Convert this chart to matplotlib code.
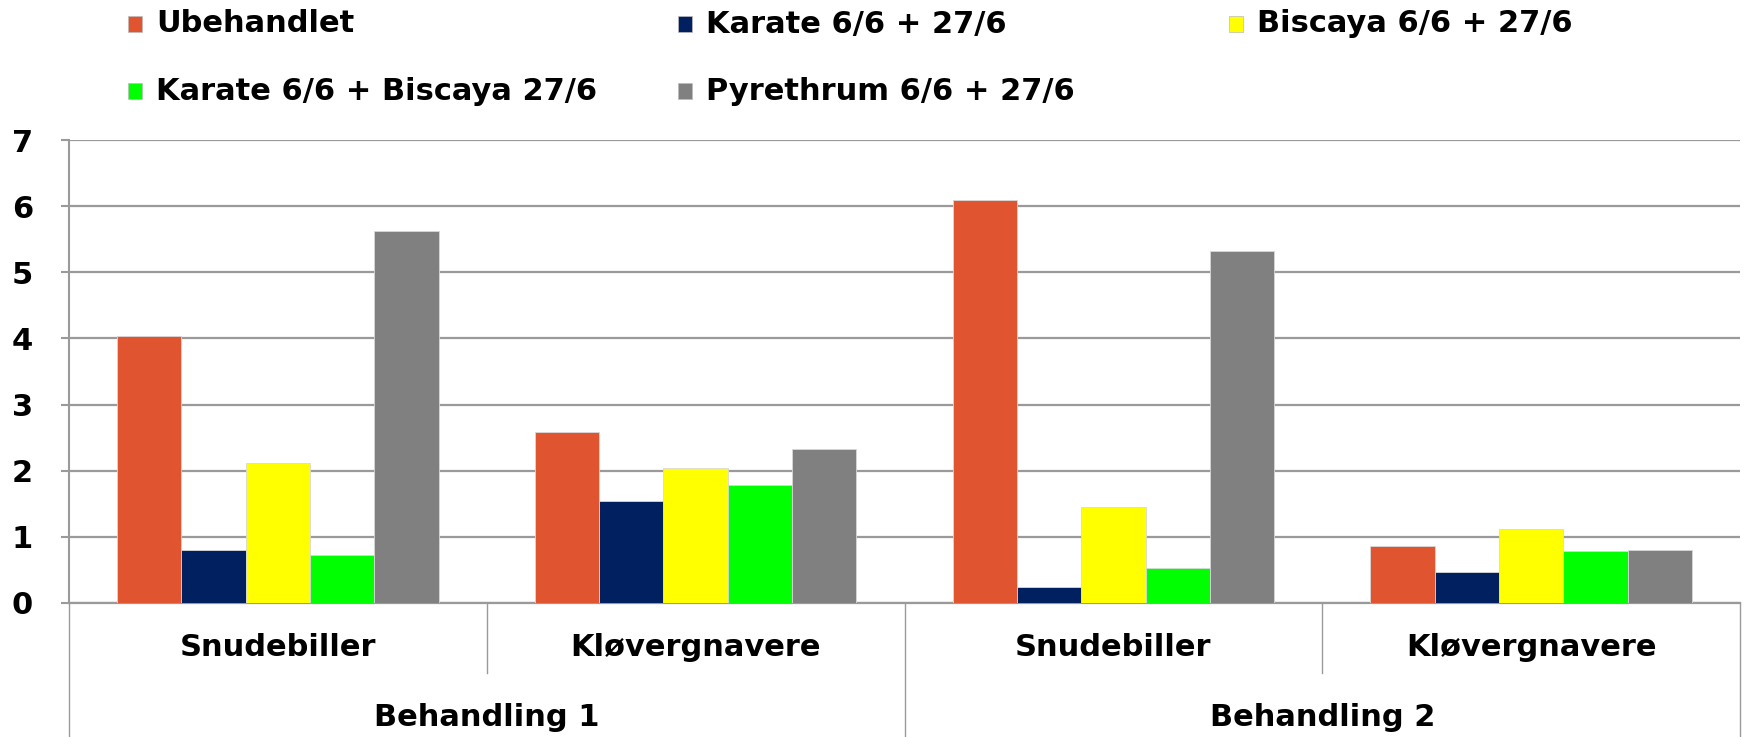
#!/usr/bin/env python3
"""Grouped bar chart: Behandling 1/2, Snudebiller / Kløvergnavere."""

import matplotlib

matplotlib.use("Agg")
import matplotlib.pyplot as plt
import numpy as np
from matplotlib.patches import Rectangle

plt.rcParams["font.family"] = ["DejaVu Sans"]
plt.rcParams["font.weight"] = "bold"

# --- data ---------------------------------------------------------------
groups = ["Behandling 1", "Behandling 2"]
categories = ["Snudebiller", "Kløvergnavere", "Snudebiller", "Kløvergnavere"]
series_names = [
    "Ubehandlet",
    "Karate 6/6 + 27/6",
    "Biscaya 6/6 + 27/6",
    "Karate 6/6 + Biscaya 27/6",
    "Pyrethrum 6/6 + 27/6",
]
ubehandlet = [4.03, 2.59, 6.09, 0.86]
karate = [0.80, 1.54, 0.24, 0.47]
biscaya = [2.12, 2.04, 1.45, 1.12]
karate_biscaya = [0.73, 1.79, 0.53, 0.79]
pyrethrum = [5.63, 2.33, 5.32, 0.80]
series_values = [ubehandlet, karate, biscaya, karate_biscaya, pyrethrum]

colors = ["#E0552F", "#00205F", "#FFFF00", "#00FF00", "#808080"]
grid_color = "#9A9A9A"
FS = 22

W, H = 1744, 737
fig = plt.figure(figsize=(W / 100, H / 100), dpi=100)
ax = fig.add_axes([69 / W, 134 / H, (1740 - 69) / W, (603 - 140) / H])

n = len(series_names)
bar_w = 1 / 6.5
x = np.arange(len(categories))
for i, (vals, col) in enumerate(zip(series_values, colors)):
    offs = (i - (n - 1) / 2) * bar_w
    ax.bar(x + offs, vals, width=bar_w, color=col, edgecolor="#D8D8D8",
           linewidth=0.6, zorder=3)

ax.set_xlim(-0.5, len(categories) - 0.5)
ax.set_ylim(0, 7)
ax.set_yticks(range(0, 8))
ax.yaxis.grid(True, color=grid_color, linewidth=1.6, zorder=0)
ax.set_xticks([])
ax.tick_params(axis="y", length=6, width=1.5, color=grid_color, pad=20,
               labelsize=FS)
for lab in ax.get_yticklabels():
    lab.set_fontweight("bold")
for side in ["top", "right"]:
    ax.spines[side].set_visible(False)
ax.spines["left"].set_color(grid_color)
ax.spines["left"].set_linewidth(1.5)
ax.spines["bottom"].set_color(grid_color)
ax.spines["bottom"].set_linewidth(1.6)

# multi-level category axis
trans = ax.get_xaxis_transform()
ax_h = 603 - 140
short_y = -70 / ax_h
long_y = -134 / ax_h
for xb in np.arange(-0.5, len(categories), 1.0):
    is_long = int(round(xb + 0.5)) % 2 == 0
    ax.plot([xb, xb], [0, long_y if is_long else short_y], transform=trans,
            color=grid_color, linewidth=1.0, clip_on=False)
for xi, cat in zip(x, categories):
    ax.text(xi, -45 / ax_h, cat, transform=trans, ha="center", va="center",
            fontsize=FS, fontweight="bold")
for gi, grp in enumerate(groups):
    ax.text(2 * gi + 0.5, -114 / ax_h, grp, transform=trans, ha="center",
            va="center", fontsize=FS, fontweight="bold")

# legend, three columns on two rows
leg_x = [128, 678, 1229]
leg_y = [24, 91]
for i, (name, col) in enumerate(zip(series_names, colors)):
    lx = leg_x[i % 3]
    ly = leg_y[i // 3]
    fig.patches.append(Rectangle(((lx) / W, 1 - (ly + 8) / H), 14 / W, 16 / H,
                                 transform=fig.transFigure, facecolor=col,
                                 edgecolor="#BBBBBB", linewidth=0.5))
    fig.text((lx + 28) / W, 1 - ly / H, name, ha="left", va="center",
             fontsize=FS, fontweight="bold")

fig.savefig("out.png", dpi=100)
